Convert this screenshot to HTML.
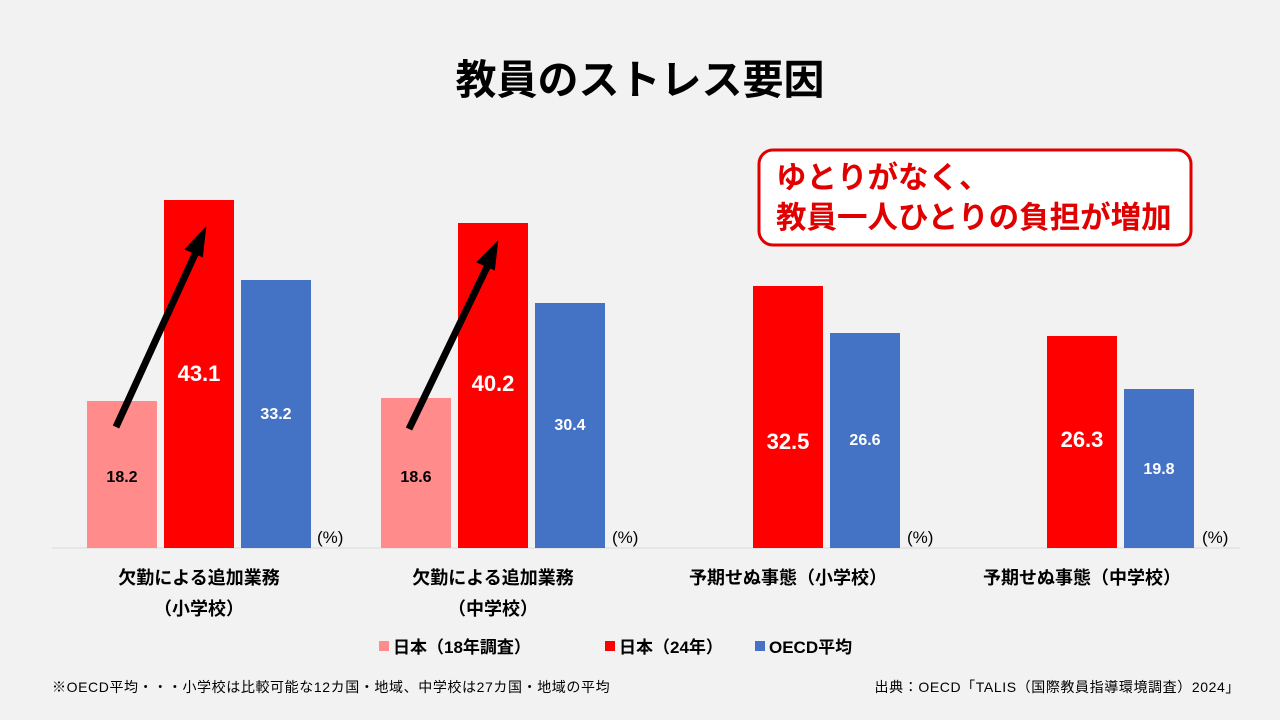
<!DOCTYPE html>
<html><head><meta charset="utf-8"><style>
body{margin:0;background:#f2f2f2;}
svg{display:block;font-family:"Liberation Sans","Noto Sans CJK JP",sans-serif;}
</style></head><body>
<svg width="1280" height="720" viewBox="0 0 1280 720">
<rect width="1280" height="720" fill="#f2f2f2"/>
<text x="640" y="94" text-anchor="middle" font-size="41" font-weight="bold" fill="#000">教員のストレス要因</text>
<rect x="759" y="150" width="432" height="95" rx="14" fill="#fff" stroke="#e00000" stroke-width="3"/>
<text x="776" y="188" font-size="30.5" font-weight="bold" fill="#e00000">ゆとりがなく、</text>
<text x="776" y="228" font-size="30.5" font-weight="bold" fill="#e00000">教員一人ひとりの負担が増加</text>
<line x1="52" y1="548" x2="1240" y2="548" stroke="#d9d9d9" stroke-width="1"/>
<g>
<rect x="87" y="401" width="70" height="147" fill="#ff8b8b"/>
<rect x="164" y="200" width="70" height="348" fill="#ff0000"/>
<rect x="241" y="280" width="70" height="268" fill="#4472c4"/>
<rect x="381" y="398" width="70" height="150" fill="#ff8b8b"/>
<rect x="458" y="223" width="70" height="325" fill="#ff0000"/>
<rect x="535" y="303" width="70" height="245" fill="#4472c4"/>
<rect x="753" y="286" width="70" height="262" fill="#ff0000"/>
<rect x="830" y="333" width="70" height="215" fill="#4472c4"/>
<rect x="1047" y="336" width="70" height="212" fill="#ff0000"/>
<rect x="1124" y="389" width="70" height="159" fill="#4472c4"/>
</g>
<g font-weight="bold" text-anchor="middle">
<text x="122" y="482" font-size="16" fill="#000">18.2</text>
<text x="199" y="381" font-size="22" fill="#fff">43.1</text>
<text x="276" y="419" font-size="16" fill="#fff">33.2</text>
<text x="416" y="482" font-size="16" fill="#000">18.6</text>
<text x="493" y="391" font-size="22" fill="#fff">40.2</text>
<text x="570" y="430" font-size="16" fill="#fff">30.4</text>
<text x="788" y="449" font-size="22" fill="#fff">32.5</text>
<text x="865" y="445" font-size="16" fill="#fff">26.6</text>
<text x="1082" y="447" font-size="22" fill="#fff">26.3</text>
<text x="1159" y="474" font-size="16" fill="#fff">19.8</text>
</g>
<g stroke="#000" stroke-width="7" fill="#000">
<line x1="116" y1="427" x2="196" y2="252"/>
<polygon points="205,229 186,249 202,256" stroke-width="2"/>
<line x1="409" y1="429" x2="488" y2="265"/>
<polygon points="497,243 478,262 494,269" stroke-width="2"/>
</g>
<g font-size="17" fill="#000">
<text x="317" y="543">(%)</text>
<text x="612" y="543">(%)</text>
<text x="907" y="543">(%)</text>
<text x="1202" y="543">(%)</text>
</g>
<g font-size="18" font-weight="bold" text-anchor="middle" fill="#000">
<text x="199" y="584">欠勤による追加業務</text>
<text x="199" y="615">（小学校）</text>
<text x="493" y="584">欠勤による追加業務</text>
<text x="493" y="615">（中学校）</text>
<text x="788" y="584">予期せぬ事態（小学校）</text>
<text x="1082" y="584">予期せぬ事態（中学校）</text>
</g>
<g font-size="17" font-weight="bold" fill="#000">
<rect x="379" y="641" width="10" height="10" fill="#ff8b8b"/>
<text x="393" y="653">日本（18年調査）</text>
<rect x="605" y="641" width="10" height="10" fill="#ff0000"/>
<text x="619" y="653">日本（24年）</text>
<rect x="755" y="641" width="10" height="10" fill="#4472c4"/>
<text x="769" y="653">OECD平均</text>
</g>
<text x="52" y="692" font-size="14" letter-spacing="0.6" fill="#000">※OECD平均・・・小学校は比較可能な12カ国・地域、中学校は27カ国・地域の平均</text>
<text x="1240" y="692" font-size="14" letter-spacing="0.6" fill="#000" text-anchor="end">出典：OECD「TALIS（国際教員指導環境調査）2024」</text>
</svg>
</body></html>
